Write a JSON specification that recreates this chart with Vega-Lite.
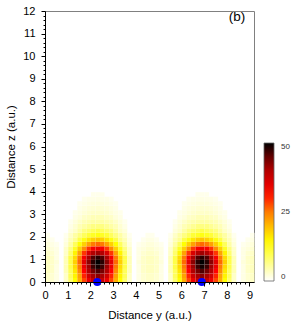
{
"$schema":"https://vega.github.io/schema/vega-lite/v6.json",
"width":209,"height":271,
"autosize":{"type":"none"},
"padding":{"left":45,"top":11,"right":37,"bottom":46},
"config":{"view":{"stroke":"#808080","strokeWidth":1},"font":"Liberation Sans","axis":{"grid":false,"domainColor":"#000000","tickColor":"#000000","labelColor":"#000000","titleColor":"#000000","labelFont":"Liberation Sans","titleFont":"Liberation Sans","titleFontWeight":"normal"}},
"datasets":{"heat":[
{"y":0.1,"z":0.1,"v":3},{"y":0.3,"z":0.1,"v":2.5},{"y":0.5,"z":0.1,"v":1.5},{"y":0.9,"z":0.1,"v":3},{"y":1.1,"z":0.1,"v":8},{"y":1.3,"z":0.1,"v":14},{"y":1.5,"z":0.1,"v":21},{"y":1.7,"z":0.1,"v":28},{"y":1.9,"z":0.1,"v":34},{"y":2.1,"z":0.1,"v":38},{"y":2.3,"z":0.1,"v":40},{"y":2.5,"z":0.1,"v":38},{"y":2.7,"z":0.1,"v":34},{"y":2.9,"z":0.1,"v":28},{"y":3.1,"z":0.1,"v":21},{"y":3.3,"z":0.1,"v":14},{"y":3.5,"z":0.1,"v":8},{"y":3.7,"z":0.1,"v":3},{"y":4.1,"z":0.1,"v":1.5},{"y":4.3,"z":0.1,"v":2.5},{"y":4.5,"z":0.1,"v":3},
{"y":4.7,"z":0.1,"v":3},{"y":4.9,"z":0.1,"v":2.5},{"y":5.1,"z":0.1,"v":1.5},{"y":5.5,"z":0.1,"v":3},{"y":5.7,"z":0.1,"v":8},{"y":5.9,"z":0.1,"v":14},{"y":6.1,"z":0.1,"v":21},{"y":6.3,"z":0.1,"v":28},{"y":6.5,"z":0.1,"v":34},{"y":6.7,"z":0.1,"v":38},{"y":6.9,"z":0.1,"v":40},{"y":7.1,"z":0.1,"v":38},{"y":7.3,"z":0.1,"v":34},{"y":7.5,"z":0.1,"v":28},{"y":7.7,"z":0.1,"v":21},{"y":7.9,"z":0.1,"v":14},{"y":8.1,"z":0.1,"v":8},{"y":8.3,"z":0.1,"v":3},{"y":8.7,"z":0.1,"v":1.5},{"y":8.9,"z":0.1,"v":2.5},{"y":9.1,"z":0.1,"v":3},
{"y":0.1,"z":0.3,"v":3},{"y":0.3,"z":0.3,"v":2.5},{"y":0.5,"z":0.3,"v":1.5},{"y":0.9,"z":0.3,"v":3},{"y":1.1,"z":0.3,"v":9},{"y":1.3,"z":0.3,"v":15},{"y":1.5,"z":0.3,"v":22},{"y":1.7,"z":0.3,"v":30},{"y":1.9,"z":0.3,"v":37},{"y":2.1,"z":0.3,"v":41},{"y":2.3,"z":0.3,"v":43},{"y":2.5,"z":0.3,"v":41},{"y":2.7,"z":0.3,"v":37},{"y":2.9,"z":0.3,"v":30},{"y":3.1,"z":0.3,"v":22},{"y":3.3,"z":0.3,"v":15},{"y":3.5,"z":0.3,"v":9},{"y":3.7,"z":0.3,"v":3},{"y":4.1,"z":0.3,"v":1.5},{"y":4.3,"z":0.3,"v":2.5},{"y":4.5,"z":0.3,"v":3},
{"y":4.7,"z":0.3,"v":3},{"y":4.9,"z":0.3,"v":2.5},{"y":5.1,"z":0.3,"v":1.5},{"y":5.5,"z":0.3,"v":3},{"y":5.7,"z":0.3,"v":9},{"y":5.9,"z":0.3,"v":15},{"y":6.1,"z":0.3,"v":22},{"y":6.3,"z":0.3,"v":30},{"y":6.5,"z":0.3,"v":37},{"y":6.7,"z":0.3,"v":41},{"y":6.9,"z":0.3,"v":43},{"y":7.1,"z":0.3,"v":41},{"y":7.3,"z":0.3,"v":37},{"y":7.5,"z":0.3,"v":30},{"y":7.7,"z":0.3,"v":22},{"y":7.9,"z":0.3,"v":15},{"y":8.1,"z":0.3,"v":9},{"y":8.3,"z":0.3,"v":3},{"y":8.7,"z":0.3,"v":1.5},{"y":8.9,"z":0.3,"v":2.5},{"y":9.1,"z":0.3,"v":3},
{"y":0.1,"z":0.5,"v":3.5},{"y":0.3,"z":0.5,"v":3},{"y":0.5,"z":0.5,"v":1.5},{"y":0.9,"z":0.5,"v":4},{"y":1.1,"z":0.5,"v":9},{"y":1.3,"z":0.5,"v":16},{"y":1.5,"z":0.5,"v":24},{"y":1.7,"z":0.5,"v":32},{"y":1.9,"z":0.5,"v":40},{"y":2.1,"z":0.5,"v":44},{"y":2.3,"z":0.5,"v":46},{"y":2.5,"z":0.5,"v":44},{"y":2.7,"z":0.5,"v":40},{"y":2.9,"z":0.5,"v":32},{"y":3.1,"z":0.5,"v":24},{"y":3.3,"z":0.5,"v":16},{"y":3.5,"z":0.5,"v":9},{"y":3.7,"z":0.5,"v":4},{"y":4.1,"z":0.5,"v":1.5},{"y":4.3,"z":0.5,"v":3},{"y":4.5,"z":0.5,"v":3.5},
{"y":4.7,"z":0.5,"v":3.5},{"y":4.9,"z":0.5,"v":3},{"y":5.1,"z":0.5,"v":1.5},{"y":5.5,"z":0.5,"v":4},{"y":5.7,"z":0.5,"v":9},{"y":5.9,"z":0.5,"v":16},{"y":6.1,"z":0.5,"v":24},{"y":6.3,"z":0.5,"v":32},{"y":6.5,"z":0.5,"v":40},{"y":6.7,"z":0.5,"v":44},{"y":6.9,"z":0.5,"v":46},{"y":7.1,"z":0.5,"v":44},{"y":7.3,"z":0.5,"v":40},{"y":7.5,"z":0.5,"v":32},{"y":7.7,"z":0.5,"v":24},{"y":7.9,"z":0.5,"v":16},{"y":8.1,"z":0.5,"v":9},{"y":8.3,"z":0.5,"v":4},{"y":8.7,"z":0.5,"v":1.5},{"y":8.9,"z":0.5,"v":3},{"y":9.1,"z":0.5,"v":3.5},
{"y":0.1,"z":0.7,"v":3.5},{"y":0.3,"z":0.7,"v":3},{"y":0.5,"z":0.7,"v":1.5},{"y":0.9,"z":0.7,"v":4},{"y":1.1,"z":0.7,"v":10},{"y":1.3,"z":0.7,"v":17},{"y":1.5,"z":0.7,"v":25},{"y":1.7,"z":0.7,"v":34},{"y":1.9,"z":0.7,"v":42},{"y":2.1,"z":0.7,"v":47},{"y":2.3,"z":0.7,"v":49},{"y":2.5,"z":0.7,"v":47},{"y":2.7,"z":0.7,"v":42},{"y":2.9,"z":0.7,"v":34},{"y":3.1,"z":0.7,"v":25},{"y":3.3,"z":0.7,"v":17},{"y":3.5,"z":0.7,"v":10},{"y":3.7,"z":0.7,"v":4},{"y":4.1,"z":0.7,"v":1.5},{"y":4.3,"z":0.7,"v":3},{"y":4.5,"z":0.7,"v":3.5},
{"y":4.7,"z":0.7,"v":3.5},{"y":4.9,"z":0.7,"v":3},{"y":5.1,"z":0.7,"v":1.5},{"y":5.5,"z":0.7,"v":4},{"y":5.7,"z":0.7,"v":10},{"y":5.9,"z":0.7,"v":17},{"y":6.1,"z":0.7,"v":25},{"y":6.3,"z":0.7,"v":34},{"y":6.5,"z":0.7,"v":42},{"y":6.7,"z":0.7,"v":47},{"y":6.9,"z":0.7,"v":49},{"y":7.1,"z":0.7,"v":47},{"y":7.3,"z":0.7,"v":42},{"y":7.5,"z":0.7,"v":34},{"y":7.7,"z":0.7,"v":25},{"y":7.9,"z":0.7,"v":17},{"y":8.1,"z":0.7,"v":10},{"y":8.3,"z":0.7,"v":4},{"y":8.7,"z":0.7,"v":1.5},{"y":8.9,"z":0.7,"v":3},{"y":9.1,"z":0.7,"v":3.5},
{"y":0.1,"z":0.9,"v":3.5},{"y":0.3,"z":0.9,"v":3},{"y":0.5,"z":0.9,"v":2},{"y":0.9,"z":0.9,"v":4},{"y":1.1,"z":0.9,"v":10},{"y":1.3,"z":0.9,"v":18},{"y":1.5,"z":0.9,"v":26},{"y":1.7,"z":0.9,"v":35},{"y":1.9,"z":0.9,"v":43},{"y":2.1,"z":0.9,"v":48},{"y":2.3,"z":0.9,"v":50},{"y":2.5,"z":0.9,"v":48},{"y":2.7,"z":0.9,"v":43},{"y":2.9,"z":0.9,"v":35},{"y":3.1,"z":0.9,"v":26},{"y":3.3,"z":0.9,"v":18},{"y":3.5,"z":0.9,"v":10},{"y":3.7,"z":0.9,"v":4},{"y":4.1,"z":0.9,"v":2},{"y":4.3,"z":0.9,"v":3},{"y":4.5,"z":0.9,"v":3.5},
{"y":4.7,"z":0.9,"v":3.5},{"y":4.9,"z":0.9,"v":3},{"y":5.1,"z":0.9,"v":2},{"y":5.5,"z":0.9,"v":4},{"y":5.7,"z":0.9,"v":10},{"y":5.9,"z":0.9,"v":18},{"y":6.1,"z":0.9,"v":26},{"y":6.3,"z":0.9,"v":35},{"y":6.5,"z":0.9,"v":43},{"y":6.7,"z":0.9,"v":48},{"y":6.9,"z":0.9,"v":50},{"y":7.1,"z":0.9,"v":48},{"y":7.3,"z":0.9,"v":43},{"y":7.5,"z":0.9,"v":35},{"y":7.7,"z":0.9,"v":26},{"y":7.9,"z":0.9,"v":18},{"y":8.1,"z":0.9,"v":10},{"y":8.3,"z":0.9,"v":4},{"y":8.7,"z":0.9,"v":2},{"y":8.9,"z":0.9,"v":3},{"y":9.1,"z":0.9,"v":3.5},
{"y":0.1,"z":1.1,"v":3.5},{"y":0.3,"z":1.1,"v":3},{"y":0.5,"z":1.1,"v":1.5},{"y":0.9,"z":1.1,"v":4},{"y":1.1,"z":1.1,"v":10},{"y":1.3,"z":1.1,"v":17},{"y":1.5,"z":1.1,"v":25},{"y":1.7,"z":1.1,"v":33},{"y":1.9,"z":1.1,"v":41},{"y":2.1,"z":1.1,"v":46},{"y":2.3,"z":1.1,"v":48},{"y":2.5,"z":1.1,"v":46},{"y":2.7,"z":1.1,"v":41},{"y":2.9,"z":1.1,"v":33},{"y":3.1,"z":1.1,"v":25},{"y":3.3,"z":1.1,"v":17},{"y":3.5,"z":1.1,"v":10},{"y":3.7,"z":1.1,"v":4},{"y":4.1,"z":1.1,"v":1.5},{"y":4.3,"z":1.1,"v":3},{"y":4.5,"z":1.1,"v":3.5},
{"y":4.7,"z":1.1,"v":3.5},{"y":4.9,"z":1.1,"v":3},{"y":5.1,"z":1.1,"v":1.5},{"y":5.5,"z":1.1,"v":4},{"y":5.7,"z":1.1,"v":10},{"y":5.9,"z":1.1,"v":17},{"y":6.1,"z":1.1,"v":25},{"y":6.3,"z":1.1,"v":33},{"y":6.5,"z":1.1,"v":41},{"y":6.7,"z":1.1,"v":46},{"y":6.9,"z":1.1,"v":48},{"y":7.1,"z":1.1,"v":46},{"y":7.3,"z":1.1,"v":41},{"y":7.5,"z":1.1,"v":33},{"y":7.7,"z":1.1,"v":25},{"y":7.9,"z":1.1,"v":17},{"y":8.1,"z":1.1,"v":10},{"y":8.3,"z":1.1,"v":4},{"y":8.7,"z":1.1,"v":1.5},{"y":8.9,"z":1.1,"v":3},{"y":9.1,"z":1.1,"v":3.5},
{"y":0.1,"z":1.3,"v":3},{"y":0.3,"z":1.3,"v":2.5},{"y":0.5,"z":1.3,"v":1.5},{"y":0.9,"z":1.3,"v":3},{"y":1.1,"z":1.3,"v":8},{"y":1.3,"z":1.3,"v":15},{"y":1.5,"z":1.3,"v":22},{"y":1.7,"z":1.3,"v":29},{"y":1.9,"z":1.3,"v":36},{"y":2.1,"z":1.3,"v":40},{"y":2.3,"z":1.3,"v":42},{"y":2.5,"z":1.3,"v":40},{"y":2.7,"z":1.3,"v":36},{"y":2.9,"z":1.3,"v":29},{"y":3.1,"z":1.3,"v":22},{"y":3.3,"z":1.3,"v":15},{"y":3.5,"z":1.3,"v":8},{"y":3.7,"z":1.3,"v":3},{"y":4.1,"z":1.3,"v":1.5},{"y":4.3,"z":1.3,"v":2.5},{"y":4.5,"z":1.3,"v":3},
{"y":4.7,"z":1.3,"v":3},{"y":4.9,"z":1.3,"v":2.5},{"y":5.1,"z":1.3,"v":1.5},{"y":5.5,"z":1.3,"v":3},{"y":5.7,"z":1.3,"v":8},{"y":5.9,"z":1.3,"v":15},{"y":6.1,"z":1.3,"v":22},{"y":6.3,"z":1.3,"v":29},{"y":6.5,"z":1.3,"v":36},{"y":6.7,"z":1.3,"v":40},{"y":6.9,"z":1.3,"v":42},{"y":7.1,"z":1.3,"v":40},{"y":7.3,"z":1.3,"v":36},{"y":7.5,"z":1.3,"v":29},{"y":7.7,"z":1.3,"v":22},{"y":7.9,"z":1.3,"v":15},{"y":8.1,"z":1.3,"v":8},{"y":8.3,"z":1.3,"v":3},{"y":8.7,"z":1.3,"v":1.5},{"y":8.9,"z":1.3,"v":2.5},{"y":9.1,"z":1.3,"v":3},
{"y":0.1,"z":1.5,"v":2.5},{"y":0.3,"z":1.5,"v":2},{"y":0.5,"z":1.5,"v":1.5},{"y":0.9,"z":1.5,"v":3},{"y":1.1,"z":1.5,"v":7},{"y":1.3,"z":1.5,"v":12},{"y":1.5,"z":1.5,"v":18},{"y":1.7,"z":1.5,"v":24},{"y":1.9,"z":1.5,"v":29},{"y":2.1,"z":1.5,"v":33},{"y":2.3,"z":1.5,"v":34},{"y":2.5,"z":1.5,"v":33},{"y":2.7,"z":1.5,"v":29},{"y":2.9,"z":1.5,"v":24},{"y":3.1,"z":1.5,"v":18},{"y":3.3,"z":1.5,"v":12},{"y":3.5,"z":1.5,"v":7},{"y":3.7,"z":1.5,"v":3},{"y":4.1,"z":1.5,"v":1.5},{"y":4.3,"z":1.5,"v":2},{"y":4.5,"z":1.5,"v":2.5},
{"y":4.7,"z":1.5,"v":2.5},{"y":4.9,"z":1.5,"v":2},{"y":5.1,"z":1.5,"v":1.5},{"y":5.5,"z":1.5,"v":3},{"y":5.7,"z":1.5,"v":7},{"y":5.9,"z":1.5,"v":12},{"y":6.1,"z":1.5,"v":18},{"y":6.3,"z":1.5,"v":24},{"y":6.5,"z":1.5,"v":29},{"y":6.7,"z":1.5,"v":33},{"y":6.9,"z":1.5,"v":34},{"y":7.1,"z":1.5,"v":33},{"y":7.3,"z":1.5,"v":29},{"y":7.5,"z":1.5,"v":24},{"y":7.7,"z":1.5,"v":18},{"y":7.9,"z":1.5,"v":12},{"y":8.1,"z":1.5,"v":7},{"y":8.3,"z":1.5,"v":3},{"y":8.7,"z":1.5,"v":1.5},{"y":8.9,"z":1.5,"v":2},{"y":9.1,"z":1.5,"v":2.5},
{"y":0.1,"z":1.7,"v":2},{"y":0.3,"z":1.7,"v":1.5},{"y":0.5,"z":1.7,"v":1},{"y":0.9,"z":1.7,"v":2},{"y":1.1,"z":1.7,"v":5},{"y":1.3,"z":1.7,"v":9},{"y":1.5,"z":1.7,"v":14},{"y":1.7,"z":1.7,"v":18},{"y":1.9,"z":1.7,"v":22},{"y":2.1,"z":1.7,"v":25},{"y":2.3,"z":1.7,"v":26},{"y":2.5,"z":1.7,"v":25},{"y":2.7,"z":1.7,"v":22},{"y":2.9,"z":1.7,"v":18},{"y":3.1,"z":1.7,"v":14},{"y":3.3,"z":1.7,"v":9},{"y":3.5,"z":1.7,"v":5},{"y":3.7,"z":1.7,"v":2},{"y":4.1,"z":1.7,"v":1},{"y":4.3,"z":1.7,"v":1.5},{"y":4.5,"z":1.7,"v":2},
{"y":4.7,"z":1.7,"v":2},{"y":4.9,"z":1.7,"v":1.5},{"y":5.1,"z":1.7,"v":1},{"y":5.5,"z":1.7,"v":2},{"y":5.7,"z":1.7,"v":5},{"y":5.9,"z":1.7,"v":9},{"y":6.1,"z":1.7,"v":14},{"y":6.3,"z":1.7,"v":18},{"y":6.5,"z":1.7,"v":22},{"y":6.7,"z":1.7,"v":25},{"y":6.9,"z":1.7,"v":26},{"y":7.1,"z":1.7,"v":25},{"y":7.3,"z":1.7,"v":22},{"y":7.5,"z":1.7,"v":18},{"y":7.7,"z":1.7,"v":14},{"y":7.9,"z":1.7,"v":9},{"y":8.1,"z":1.7,"v":5},{"y":8.3,"z":1.7,"v":2},{"y":8.7,"z":1.7,"v":1},{"y":8.9,"z":1.7,"v":1.5},{"y":9.1,"z":1.7,"v":2},
{"y":0.1,"z":1.9,"v":1.5},{"y":0.3,"z":1.9,"v":1},{"y":0.9,"z":1.9,"v":1.5},{"y":1.1,"z":1.9,"v":4},{"y":1.3,"z":1.9,"v":6},{"y":1.5,"z":1.9,"v":10},{"y":1.7,"z":1.9,"v":13},{"y":1.9,"z":1.9,"v":16},{"y":2.1,"z":1.9,"v":18},{"y":2.3,"z":1.9,"v":19},{"y":2.5,"z":1.9,"v":18},{"y":2.7,"z":1.9,"v":16},{"y":2.9,"z":1.9,"v":13},{"y":3.1,"z":1.9,"v":10},{"y":3.3,"z":1.9,"v":6},{"y":3.5,"z":1.9,"v":4},{"y":3.7,"z":1.9,"v":1.5},{"y":4.3,"z":1.9,"v":1},{"y":4.5,"z":1.9,"v":1.5},
{"y":4.7,"z":1.9,"v":1.5},{"y":4.9,"z":1.9,"v":1},{"y":5.5,"z":1.9,"v":1.5},{"y":5.7,"z":1.9,"v":4},{"y":5.9,"z":1.9,"v":6},{"y":6.1,"z":1.9,"v":10},{"y":6.3,"z":1.9,"v":13},{"y":6.5,"z":1.9,"v":16},{"y":6.7,"z":1.9,"v":18},{"y":6.9,"z":1.9,"v":19},{"y":7.1,"z":1.9,"v":18},{"y":7.3,"z":1.9,"v":16},{"y":7.5,"z":1.9,"v":13},{"y":7.7,"z":1.9,"v":10},{"y":7.9,"z":1.9,"v":6},{"y":8.1,"z":1.9,"v":4},{"y":8.3,"z":1.9,"v":1.5},{"y":8.9,"z":1.9,"v":1},{"y":9.1,"z":1.9,"v":1.5},
{"y":0.1,"z":2.1,"v":1},{"y":0.9,"z":2.1,"v":1},{"y":1.1,"z":2.1,"v":3},{"y":1.3,"z":2.1,"v":5},{"y":1.5,"z":2.1,"v":7},{"y":1.7,"z":2.1,"v":9},{"y":1.9,"z":2.1,"v":11},{"y":2.1,"z":2.1,"v":12},{"y":2.3,"z":2.1,"v":13},{"y":2.5,"z":2.1,"v":12},{"y":2.7,"z":2.1,"v":11},{"y":2.9,"z":2.1,"v":9},{"y":3.1,"z":2.1,"v":7},{"y":3.3,"z":2.1,"v":5},{"y":3.5,"z":2.1,"v":3},{"y":3.7,"z":2.1,"v":1},{"y":4.5,"z":2.1,"v":1},
{"y":4.7,"z":2.1,"v":1},{"y":5.5,"z":2.1,"v":1},{"y":5.7,"z":2.1,"v":3},{"y":5.9,"z":2.1,"v":5},{"y":6.1,"z":2.1,"v":7},{"y":6.3,"z":2.1,"v":9},{"y":6.5,"z":2.1,"v":11},{"y":6.7,"z":2.1,"v":12},{"y":6.9,"z":2.1,"v":13},{"y":7.1,"z":2.1,"v":12},{"y":7.3,"z":2.1,"v":11},{"y":7.5,"z":2.1,"v":9},{"y":7.7,"z":2.1,"v":7},{"y":7.9,"z":2.1,"v":5},{"y":8.1,"z":2.1,"v":3},{"y":8.3,"z":2.1,"v":1},{"y":9.1,"z":2.1,"v":1},
{"y":1.1,"z":2.3,"v":2},{"y":1.3,"z":2.3,"v":3},{"y":1.5,"z":2.3,"v":5},{"y":1.7,"z":2.3,"v":7},{"y":1.9,"z":2.3,"v":8},{"y":2.1,"z":2.3,"v":9},{"y":2.3,"z":2.3,"v":10},{"y":2.5,"z":2.3,"v":9},{"y":2.7,"z":2.3,"v":8},{"y":2.9,"z":2.3,"v":7},{"y":3.1,"z":2.3,"v":5},{"y":3.3,"z":2.3,"v":3},{"y":3.5,"z":2.3,"v":2},
{"y":5.7,"z":2.3,"v":2},{"y":5.9,"z":2.3,"v":3},{"y":6.1,"z":2.3,"v":5},{"y":6.3,"z":2.3,"v":7},{"y":6.5,"z":2.3,"v":8},{"y":6.7,"z":2.3,"v":9},{"y":6.9,"z":2.3,"v":10},{"y":7.1,"z":2.3,"v":9},{"y":7.3,"z":2.3,"v":8},{"y":7.5,"z":2.3,"v":7},{"y":7.7,"z":2.3,"v":5},{"y":7.9,"z":2.3,"v":3},{"y":8.1,"z":2.3,"v":2},
{"y":1.1,"z":2.5,"v":1.4},{"y":1.3,"z":2.5,"v":2.5},{"y":1.5,"z":2.5,"v":4},{"y":1.7,"z":2.5,"v":5},{"y":1.9,"z":2.5,"v":6},{"y":2.1,"z":2.5,"v":7},{"y":2.3,"z":2.5,"v":7},{"y":2.5,"z":2.5,"v":7},{"y":2.7,"z":2.5,"v":6},{"y":2.9,"z":2.5,"v":5},{"y":3.1,"z":2.5,"v":4},{"y":3.3,"z":2.5,"v":2.5},{"y":3.5,"z":2.5,"v":1.4},
{"y":5.7,"z":2.5,"v":1.4},{"y":5.9,"z":2.5,"v":2.5},{"y":6.1,"z":2.5,"v":4},{"y":6.3,"z":2.5,"v":5},{"y":6.5,"z":2.5,"v":6},{"y":6.7,"z":2.5,"v":7},{"y":6.9,"z":2.5,"v":7},{"y":7.1,"z":2.5,"v":7},{"y":7.3,"z":2.5,"v":6},{"y":7.5,"z":2.5,"v":5},{"y":7.7,"z":2.5,"v":4},{"y":7.9,"z":2.5,"v":2.5},{"y":8.1,"z":2.5,"v":1.4},
{"y":1.1,"z":2.7,"v":1},{"y":1.3,"z":2.7,"v":2},{"y":1.5,"z":2.7,"v":3},{"y":1.7,"z":2.7,"v":4},{"y":1.9,"z":2.7,"v":4.5},{"y":2.1,"z":2.7,"v":5},{"y":2.3,"z":2.7,"v":5},{"y":2.5,"z":2.7,"v":5},{"y":2.7,"z":2.7,"v":4.5},{"y":2.9,"z":2.7,"v":4},{"y":3.1,"z":2.7,"v":3},{"y":3.3,"z":2.7,"v":2},{"y":3.5,"z":2.7,"v":1},
{"y":5.7,"z":2.7,"v":1},{"y":5.9,"z":2.7,"v":2},{"y":6.1,"z":2.7,"v":3},{"y":6.3,"z":2.7,"v":4},{"y":6.5,"z":2.7,"v":4.5},{"y":6.7,"z":2.7,"v":5},{"y":6.9,"z":2.7,"v":5},{"y":7.1,"z":2.7,"v":5},{"y":7.3,"z":2.7,"v":4.5},{"y":7.5,"z":2.7,"v":4},{"y":7.7,"z":2.7,"v":3},{"y":7.9,"z":2.7,"v":2},{"y":8.1,"z":2.7,"v":1},
{"y":1.3,"z":2.9,"v":1.4},{"y":1.5,"z":2.9,"v":2},{"y":1.7,"z":2.9,"v":3},{"y":1.9,"z":2.9,"v":3.4},{"y":2.1,"z":2.9,"v":4},{"y":2.3,"z":2.9,"v":4},{"y":2.5,"z":2.9,"v":4},{"y":2.7,"z":2.9,"v":3.4},{"y":2.9,"z":2.9,"v":3},{"y":3.1,"z":2.9,"v":2},{"y":3.3,"z":2.9,"v":1.4},
{"y":5.9,"z":2.9,"v":1.4},{"y":6.1,"z":2.9,"v":2},{"y":6.3,"z":2.9,"v":3},{"y":6.5,"z":2.9,"v":3.4},{"y":6.7,"z":2.9,"v":4},{"y":6.9,"z":2.9,"v":4},{"y":7.1,"z":2.9,"v":4},{"y":7.3,"z":2.9,"v":3.4},{"y":7.5,"z":2.9,"v":3},{"y":7.7,"z":2.9,"v":2},{"y":7.9,"z":2.9,"v":1.4},
{"y":1.3,"z":3.1,"v":1.1},{"y":1.5,"z":3.1,"v":1.6},{"y":1.7,"z":3.1,"v":2.2},{"y":1.9,"z":3.1,"v":2.7},{"y":2.1,"z":3.1,"v":3},{"y":2.3,"z":3.1,"v":3},{"y":2.5,"z":3.1,"v":3},{"y":2.7,"z":3.1,"v":2.7},{"y":2.9,"z":3.1,"v":2.2},{"y":3.1,"z":3.1,"v":1.6},{"y":3.3,"z":3.1,"v":1.1},
{"y":5.9,"z":3.1,"v":1.1},{"y":6.1,"z":3.1,"v":1.6},{"y":6.3,"z":3.1,"v":2.2},{"y":6.5,"z":3.1,"v":2.7},{"y":6.7,"z":3.1,"v":3},{"y":6.9,"z":3.1,"v":3},{"y":7.1,"z":3.1,"v":3},{"y":7.3,"z":3.1,"v":2.7},{"y":7.5,"z":3.1,"v":2.2},{"y":7.7,"z":3.1,"v":1.6},{"y":7.9,"z":3.1,"v":1.1},
{"y":1.5,"z":3.3,"v":1.3},{"y":1.7,"z":3.3,"v":1.8},{"y":1.9,"z":3.3,"v":2.2},{"y":2.1,"z":3.3,"v":2.4},{"y":2.3,"z":3.3,"v":2.5},{"y":2.5,"z":3.3,"v":2.4},{"y":2.7,"z":3.3,"v":2.2},{"y":2.9,"z":3.3,"v":1.8},{"y":3.1,"z":3.3,"v":1.3},
{"y":6.1,"z":3.3,"v":1.3},{"y":6.3,"z":3.3,"v":1.8},{"y":6.5,"z":3.3,"v":2.2},{"y":6.7,"z":3.3,"v":2.4},{"y":6.9,"z":3.3,"v":2.5},{"y":7.1,"z":3.3,"v":2.4},{"y":7.3,"z":3.3,"v":2.2},{"y":7.5,"z":3.3,"v":1.8},{"y":7.7,"z":3.3,"v":1.3},
{"y":1.5,"z":3.5,"v":1},{"y":1.7,"z":3.5,"v":1.4},{"y":1.9,"z":3.5,"v":1.7},{"y":2.1,"z":3.5,"v":1.9},{"y":2.3,"z":3.5,"v":2},{"y":2.5,"z":3.5,"v":1.9},{"y":2.7,"z":3.5,"v":1.7},{"y":2.9,"z":3.5,"v":1.4},{"y":3.1,"z":3.5,"v":1},
{"y":6.1,"z":3.5,"v":1},{"y":6.3,"z":3.5,"v":1.4},{"y":6.5,"z":3.5,"v":1.7},{"y":6.7,"z":3.5,"v":1.9},{"y":6.9,"z":3.5,"v":2},{"y":7.1,"z":3.5,"v":1.9},{"y":7.3,"z":3.5,"v":1.7},{"y":7.5,"z":3.5,"v":1.4},{"y":7.7,"z":3.5,"v":1},
{"y":1.7,"z":3.7,"v":1},{"y":1.9,"z":3.7,"v":1.3},{"y":2.1,"z":3.7,"v":1.4},{"y":2.3,"z":3.7,"v":1.5},{"y":2.5,"z":3.7,"v":1.4},{"y":2.7,"z":3.7,"v":1.3},{"y":2.9,"z":3.7,"v":1},
{"y":6.3,"z":3.7,"v":1},{"y":6.5,"z":3.7,"v":1.3},{"y":6.7,"z":3.7,"v":1.4},{"y":6.9,"z":3.7,"v":1.5},{"y":7.1,"z":3.7,"v":1.4},{"y":7.3,"z":3.7,"v":1.3},{"y":7.5,"z":3.7,"v":1},
{"y":2.1,"z":3.9,"v":1.1},{"y":2.3,"z":3.9,"v":1.1},{"y":2.5,"z":3.9,"v":1.1},
{"y":6.7,"z":3.9,"v":1.1},{"y":6.9,"z":3.9,"v":1.1},{"y":7.1,"z":3.9,"v":1.1}
]},
"layer":[
{"data":{"name":"heat"},
"mark":{"type":"rect","binSpacing":0},
"encoding":{
"x":{"field":"y","type":"quantitative","bin":{"step":0.2,"extent":[0,9.2]},"scale":{"domain":[0,9.2],"nice":false,"zero":false},
"axis":{"orient":"bottom","values":[0,1,2,3,4,5,6,7,8,9],"format":"d","tickSize":4,"labelPadding":3,"labelFontSize":11,"titleFontSize":11.5,"titlePadding":9,"title":"Distance y (a.u.)","labelFlush":false}},
"y":{"field":"z","type":"quantitative","bin":{"step":0.2,"extent":[0,12]},"scale":{"domain":[0,12],"nice":false,"zero":false},
"axis":{"orient":"left","values":[0,1,2,3,4,5,6,7,8,9,10,11,12],"format":"d","tickSize":4,"labelPadding":6,"labelFontSize":11,"titleFontSize":11.5,"titlePadding":6,"title":"Distance z (a.u.)","labelFlush":false}},
"color":{"field":"v","type":"quantitative","scale":{"domain":[0,14,24,32,42,50],"range":["#ffffff","#ffff00","#ff8c00","#ff0000","#a00000","#000000"],"interpolate":"rgb","clamp":true},
"legend":{"type":"gradient","orient":"none","legendX":219,"legendY":132,"direction":"vertical","gradientLength":138,"gradientThickness":10,"title":null,"values":[0,25,50],"labelFontSize":8,"labelColor":"#333333","labelOffset":7,"gradientStrokeColor":"#666666","gradientStrokeWidth":0.8}}
}},
{"data":{"values":[{"y":2.3,"z":0},{"y":6.9,"z":0}]},
"mark":{"type":"point","filled":true,"color":"#0000ff","size":65,"opacity":1,"clip":false},
"encoding":{
"x":{"field":"y","type":"quantitative","axis":{"orient":"bottom","values":[0.2,0.4,0.6,0.8,1.2,1.4,1.6,1.8,2.2,2.4,2.6,2.8,3.2,3.4,3.6,3.8,4.2,4.4,4.6,4.8,5.2,5.4,5.6,5.8,6.2,6.4,6.6,6.8,7.2,7.4,7.6,7.8,8.2,8.4,8.6,8.8],"labels":false,"domain":false,"tickSize":2,"title":null}},
"y":{"field":"z","type":"quantitative","axis":{"orient":"left","values":[0.2,0.4,0.6,0.8,1.2,1.4,1.6,1.8,2.2,2.4,2.6,2.8,3.2,3.4,3.6,3.8,4.2,4.4,4.6,4.8,5.2,5.4,5.6,5.8,6.2,6.4,6.6,6.8,7.2,7.4,7.6,7.8,8.2,8.4,8.6,8.8,9.2,9.4,9.6,9.8,10.2,10.4,10.6,10.8,11.2,11.4,11.6,11.8],"labels":false,"domain":false,"tickSize":2,"title":null}}
}},
{"data":{"values":[{"y":8.45,"z":11.72,"t":"(b)"}]},
"mark":{"type":"text","fontSize":13.5,"font":"Liberation Sans","align":"center","baseline":"middle","color":"#000000"},
"encoding":{"x":{"field":"y","type":"quantitative","axis":null},"y":{"field":"z","type":"quantitative","axis":null},"text":{"field":"t"}}}
],
"resolve":{"axis":{"x":"independent","y":"independent"}}
}
